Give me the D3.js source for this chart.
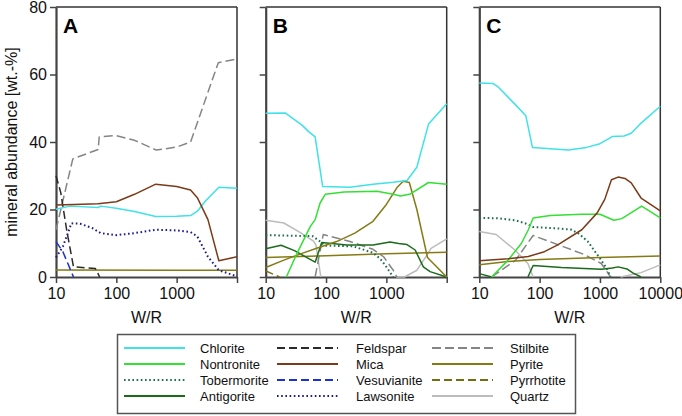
<!DOCTYPE html>
<html><head><meta charset="utf-8">
<script src="https://cdn.jsdelivr.net/npm/d3@7"></script>
<style>body{margin:0;background:#fff}svg{display:block}text{font-family:Arial,"Liberation Sans",sans-serif}</style>
</head><body><svg id="c" width="682" height="416"></svg>
<script>
// ---------- data (W/R, wt.-%) ----------
const xTicks = [10, 100, 1000, 10000];
const yTicks = [0, 20, 40, 60, 80];
const panelLabels = ["A", "B", "C"];
const minerals = ["Chlorite","Nontronite","Tobermorite","Antigorite","Feldspar","Mica","Vesuvianite","Lawsonite","Stilbite","Pyrite","Pyrrhotite","Quartz"];
const colors = ["#3fe2e8","#33e033","#1d6e4a","#1b6b1b","#2a2a2a","#7b3a18","#1a33cc","#1c1c8f","#858585","#857a14","#756d12","#bcbcbc"];
const dashes = ["","","1.6,2.6","","8,4","","8,4","1.6,2.6","9,4","","8,4",""];

// Panel A
const A_chlorite = [[10,20.1],[17,21],[50,20.6],[55,21],[100,20.4],[200,19.4],[450,17.9],[1000,18],[1700,18.2],[2200,19.5],[3000,22.5],[5000,26.6],[10000,26.3]];
const A_mica = [[10,21.3],[20,21.5],[50,21.7],[100,22.3],[200,24.5],[450,27.5],[1000,26.8],[1700,25.8],[2200,23.5],[3300,17],[5000,4.8],[10000,6.0]];
const A_lawsonite = [[10,5.8],[13,9],[15,12],[18,15.9],[25,15.8],[40,14.5],[55,13],[100,12.4],[200,13],[450,14],[1000,13.8],[1700,13.3],[2200,12],[3300,6],[5000,2],[10000,0.2]];
const A_feldspar = [[10,30],[12,25],[15,14],[19.5,3],[45,2.5],[53,0]];
const A_vesuvianite = [[10,10.5],[13,7.5],[19.5,0]];
const A_stilbite = [[10,14],[19,35],[50,37.8],[52,41.5],[100,41.9],[200,40.5],[460,37.6],[1000,38.5],[1700,40],[4900,63.5],[10000,64.6]];
const A_pyrite = [[10,2.1],[1000,2.0],[10000,2.0]];

// Panel B
const B_chlorite = [[10,48.5],[21,48.6],[40,45],[52,43],[66,41.5],[88,26.8],[250,26.6],[600,27.5],[1300,28.1],[2200,28.6],[3200,32.5],[5000,45.3],[10000,51.3]];
const B_nontronite = [[22,0],[33,7],[55,15],[66,17],[80,22],[97,24.5],[200,25.2],[700,25.4],[1300,24.5],[1700,24],[2500,24.6],[5000,28],[10000,27.5]];
const B_tobermorite = [[10,12.4],[60,12.1],[80,10.5],[95,9.3],[280,9.1],[600,7.2],[800,5.3],[1000,3],[1300,0]];
const B_antigorite = [[10,8.4],[18,9.4],[30,7.8],[66,4.4],[85,10.2],[220,9.5],[600,9.5],[1150,10.4],[1600,9.9],[2200,9.6],[3000,8],[4100,3],[5300,1.6],[10000,0]];
const B_stilbite = [[66,0],[90,12.6],[250,10.5],[600,8.2],[900,6],[1300,2],[1500,0]];
const B_pyrite = [[10,5.8],[100,6.3],[1000,6.9],[10000,7.3]];
const B_pyriteRise = [[10,2.8],[20,5],[40,7],[70,8.5],[150,10.5],[300,13],[600,16.5],[1000,21.5],[1500,26.5],[1900,28.4],[2400,28],[3200,20],[4800,5.8],[10000,0]];
const B_pyrrhotite = [[10,1.8],[17,0]];
const B_quartz = [[10,16.8],[20,16],[37,13.2],[62,10.6],[68,9.5],[82,0],[100,null],[1450,0],[2000,0],[3200,2],[4700,6.5],[5500,8.5],[10000,11.3]];

// Panel C
const C_chlorite = [[10,57.5],[17,57.3],[20,56.5],[40,51],[59,47.8],[76,38.4],[150,38],[300,37.6],[600,38.4],[1000,39.5],[1600,41.6],[2500,41.8],[3300,42.6],[4800,45.6],[10000,50.6]];
const C_nontronite = [[16,0],[30,5],[50,10],[65,14],[78,17.5],[150,18.2],[500,18.6],[1000,18.6],[1700,16.8],[2300,17.3],[4900,21],[10000,17.5]];
const C_tobermorite = [[10,17.5],[20,17.4],[40,16.8],[60,15.8],[78,14.8],[200,14.4],[340,14],[450,12.8],[630,10.5],[1000,5.5],[1300,2.5],[1500,0]];
const C_antigorite = [[10,1],[16,0],[30,null],[64,0],[78,3.4],[230,2.8],[1050,2.3],[1600,2.7],[2000,3],[2800,2.4],[3500,1.2],[4800,0]];
const C_mica = [[10,4.8],[30,5.4],[65,6.1],[120,7.5],[200,9.5],[500,14],[900,19],[1200,23],[1550,28.8],[2000,29.6],[2600,29.2],[3300,27.9],[4800,23.4],[10000,19.6]];
const C_stilbite = [[16,0],[40,5],[78,12.3],[230,9.2],[560,6.6],[1050,4],[1500,0]];
const C_pyrite = [[10,3.6],[30,4.6],[100,5.2],[1000,5.8],[10000,6.2]];
const C_quartz = [[10,13.5],[19,12.6],[39,8],[64,4],[78,0],[100,null],[2200,0],[4800,1.3],[10000,3.6]];

const panelSeries = [
  [["Stilbite",A_stilbite],["Pyrite",A_pyrite],["Feldspar",A_feldspar],["Vesuvianite",A_vesuvianite],["Lawsonite",A_lawsonite],["Chlorite",A_chlorite],["Mica",A_mica]],
  [["Quartz",B_quartz],["Stilbite",B_stilbite],["Pyrrhotite",B_pyrrhotite],["Pyrite",B_pyrite],["Tobermorite",B_tobermorite],["Antigorite",B_antigorite],["Pyrite",B_pyriteRise],["Nontronite",B_nontronite],["Chlorite",B_chlorite]],
  [["Quartz",C_quartz],["Stilbite",C_stilbite],["Antigorite",C_antigorite],["Pyrite",C_pyrite],["Tobermorite",C_tobermorite],["Nontronite",C_nontronite],["Mica",C_mica],["Chlorite",C_chlorite]]
];

// ---------- drawing ----------
const svg = d3.select("#c");
const lefts = [56, 265.7, 479.3];
const pw = 181, pTop = 7, pBottom = 277;
const y = d3.scaleLinear().domain([0, 80]).range([pBottom, pTop]);
const style = m => { const i = minerals.indexOf(m); return {c: colors[i], d: dashes[i]}; };

lefts.forEach((L, pi) => {
  const x = d3.scaleLog().domain([10, 10000]).range([L, L + pw]);
  const g = svg.append("g");
  g.append("line").attr("x1", L).attr("x2", L + pw).attr("y1", pTop).attr("y2", pTop).attr("stroke", "#333").attr("stroke-width", 1.5);
  g.append("line").attr("x1", L + pw).attr("x2", L + pw).attr("y1", pTop).attr("y2", pBottom).attr("stroke", "#333").attr("stroke-width", 1.5);
  const ya = d3.axisLeft(y).tickValues(yTicks).tickSize(6).tickSizeOuter(0).tickPadding(3)
    .tickFormat(pi === 0 ? d3.format("d") : () => "");
  const yg = g.append("g").attr("transform", `translate(${L},0)`).call(ya);
  const xa = d3.axisBottom(x).tickValues(xTicks).tickSize(6).tickSizeOuter(0).tickPadding(5)
    .tickFormat(d => (d === 10000 && pi < 2) ? "" : d3.format("d")(d));
  const xg = g.append("g").attr("transform", `translate(0,${pBottom})`).call(xa);
  [yg, xg].forEach(a => {
    a.select(".domain").attr("stroke", "#444").attr("stroke-width", 2.2);
    a.selectAll(".tick line").attr("stroke", "#444").attr("stroke-width", 1.5);
    a.selectAll(".tick text").attr("font-size", 16).attr("fill", "#111").attr("font-family", "Arial, 'Liberation Sans', sans-serif");
  });
  g.append("text").attr("x", L + pw / 2).attr("y", 323).attr("text-anchor", "middle").attr("font-size", 16).attr("fill", "#111").text("W/R");
  g.append("text").attr("x", L + 7).attr("y", 33).attr("font-size", 21).attr("font-weight", "bold").attr("fill", "#000").text(panelLabels[pi]);

  const line = d3.line().defined(d => d[1] != null).x(d => x(d[0])).y(d => y(d[1]));
  panelSeries[pi].forEach(([m, pts]) => {
    const s = style(m);
    g.append("path").attr("d", line(pts)).attr("fill", "none").attr("stroke", s.c)
      .attr("stroke-width", s.d.startsWith("1.6") ? 2 : 1.5).attr("stroke-dasharray", s.d || null)
      .attr("stroke-linejoin", "round");
  });
});

svg.append("text").attr("transform", "translate(17,142) rotate(-90)").attr("text-anchor", "middle")
  .attr("font-size", 16).attr("fill", "#111").text("mineral abundance [wt.-%]");

const lg = svg.append("g");
lg.append("rect").attr("x", 117.5).attr("y", 334.5).attr("width", 458).attr("height", 79).attr("fill", "#fff").attr("stroke", "#555").attr("stroke-width", 1.5);
const colX = [124, 277, 432], colW = 61, textX = [200, 356, 510], rowY = [348, 364, 380, 396];
minerals.forEach((m, i) => {
  const c = Math.floor(i / 4), r = i % 4, s = style(m);
  lg.append("line").attr("x1", colX[c]).attr("x2", colX[c] + colW).attr("y1", rowY[r]).attr("y2", rowY[r])
    .attr("stroke", s.c).attr("stroke-width", s.d.startsWith("1.6") ? 2 : 1.8).attr("stroke-dasharray", s.d || null);
  lg.append("text").attr("x", textX[c]).attr("y", rowY[r] + 5).attr("font-size", 13).attr("fill", "#111").text(m);
});
</script></body></html>
